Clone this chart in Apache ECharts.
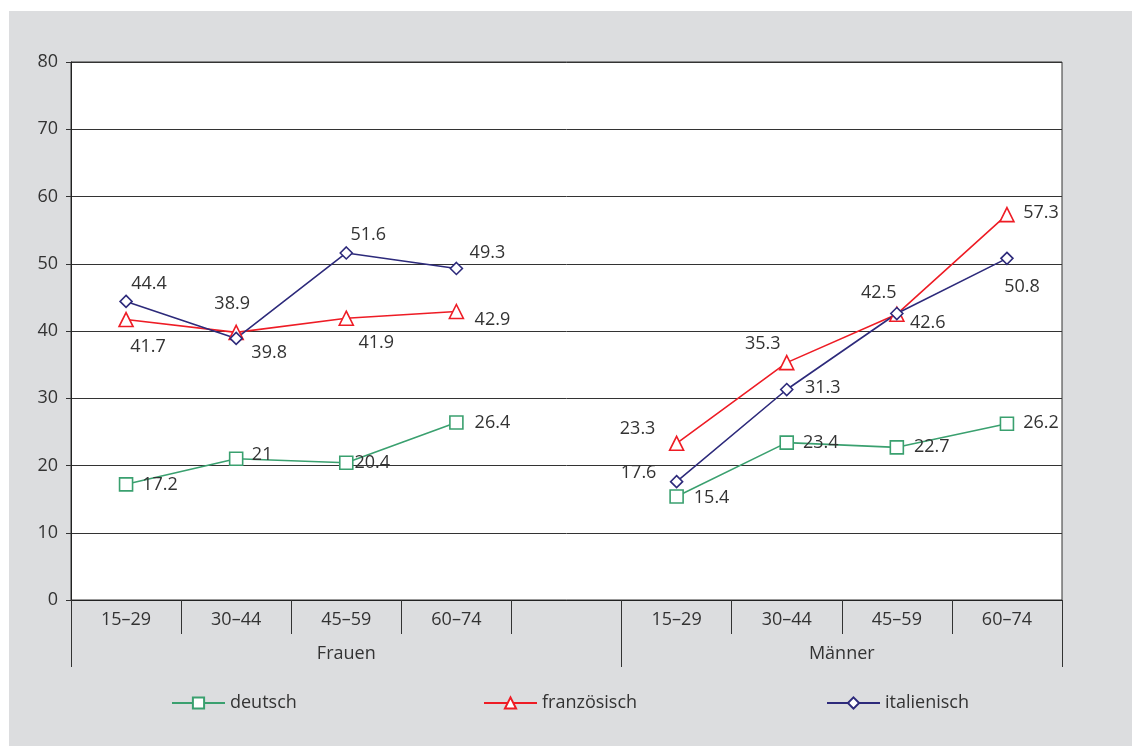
<!DOCTYPE html>
<html>
<head>
<meta charset="utf-8">
<script src="https://cdn.jsdelivr.net/npm/echarts@6/dist/echarts.min.js"></script>
<style>
  html, body { margin: 0; padding: 0; background: #ffffff; }
  #chart { position: absolute; left: 9px; top: 11px; width: 1123px; height: 735px; background: #dcdddf; }
</style>
</head>
<body>
<div id="chart"></div>
<script>
// ---- data ----
const categories = ['15–29', '30–44', '45–59', '60–74', '', '15–29', '30–44', '45–59', '60–74'];
const groups = ['Frauen', 'Männer'];
const deutsch = [17.2, 21, 20.4, 26.4, null, 15.4, 23.4, 22.7, 26.2];
const franzoesisch = [41.7, 39.8, 41.9, 42.9, null, 23.3, 35.3, 42.5, 57.3];
const italienisch = [44.4, 38.9, 51.6, 49.3, null, 17.6, 31.3, 42.6, 50.8];
const yTicks = [0, 10, 20, 30, 40, 50, 60, 70, 80];

// ---- styling (label placement relative to each point) ----
const labelOffsets = {
  deutsch: [[34, 1], [26, -4], [26, 0], [36, 0], null, [35, 1], [34, 0], [35, 0], [34, -1]],
  franz: [[22, 27], [33, 21], [30, 25], [36, 8], null, [-39, -14], [-24, -19], [-18, -21], [34, -2]],
  ital: [[23, -18], [-4, -35], [22, -18], [31, -16], null, [-38, -9], [36, -2], [31, 9], [15, 29]]
};
const FONT = '"Open Sans", "Noto Sans", sans-serif';
const TXT = '#333333';
const FS = 18;

function buildData(values, offs) {
  return values.map((v, i) => v == null ? '-' : { value: v, label: { offset: offs[i] } });
}

function lineSeries(name, values, offs, color, symbol, size) {
  return {
    name: name,
    type: 'line',
    xAxisIndex: 0,
    yAxisIndex: 0,
    data: buildData(values, offs),
    symbol: symbol,
    symbolSize: size,
    connectNulls: false,
    lineStyle: { color: color, width: 1.6 },
    itemStyle: { color: '#ffffff', borderColor: color, borderWidth: 1.6 },
    label: { show: true, position: 'inside', color: TXT, fontSize: FS, fontFamily: FONT },
    emphasis: { disabled: true },
    animation: false
  };
}

const chart = echarts.init(document.getElementById('chart'), null, { renderer: 'canvas' });
const legendCommon = {
  top: 683, padding: 0, itemWidth: 53, itemHeight: 14, itemGap: 4,
  textStyle: { color: TXT, fontSize: FS, fontFamily: FONT },
  selectedMode: false
};
chart.setOption({
  animation: false,
  textStyle: { fontFamily: FONT },
  grid: {
    left: 62, top: 51, width: 991, height: 538,
    show: true, backgroundColor: '#ffffff', borderColor: '#333333', borderWidth: 1
  },
  legend: [
    Object.assign({ data: ['deutsch'], left: 162 }, legendCommon),
    Object.assign({ data: ['französisch'], left: 474 }, legendCommon),
    Object.assign({ data: ['italienisch'], left: 817 }, legendCommon)
  ],
  xAxis: [
    {
      type: 'category',
      data: categories,
      boundaryGap: true,
      axisLine: { show: true, lineStyle: { color: '#222222', width: 1 } },
      axisTick: { show: true, interval: 0, length: 34, lineStyle: { color: '#333333', width: 1 } },
      axisLabel: { interval: 0, margin: 11, color: TXT, fontSize: FS, fontFamily: FONT },
      splitLine: { show: false }
    },
    {
      type: 'value',
      position: 'bottom',
      min: 0, max: categories.length,
      axisLine: { show: false },
      axisTick: { show: true, customValues: [0, 5, categories.length], length: 67, lineStyle: { color: '#333333', width: 1 } },
      axisLabel: {
        show: true, customValues: [2.5, 7], margin: 45,
        color: TXT, fontSize: FS, fontFamily: FONT,
        formatter: v => (v < 5 ? groups[0] : groups[1])
      },
      splitLine: { show: false }
    }
  ],
  yAxis: {
    type: 'value',
    min: yTicks[0], max: yTicks[yTicks.length - 1], interval: 10,
    axisLine: { show: true, lineStyle: { color: '#222222', width: 1 } },
    axisTick: { show: true, length: 5, lineStyle: { color: '#333333' } },
    axisLabel: { margin: 13, color: TXT, fontSize: FS, fontFamily: FONT },
    splitLine: { show: true, lineStyle: { color: '#333333', width: 1 } }
  },
  series: [
    lineSeries('deutsch', deutsch, labelOffsets.deutsch, '#3aa06f', 'rect', 13),
    lineSeries('französisch', franzoesisch, labelOffsets.franz, '#ee1c25', 'triangle', 14),
    lineSeries('italienisch', italienisch, labelOffsets.ital, '#2d2a7b', 'diamond', 12)
  ]
});
</script>
</body>
</html>
